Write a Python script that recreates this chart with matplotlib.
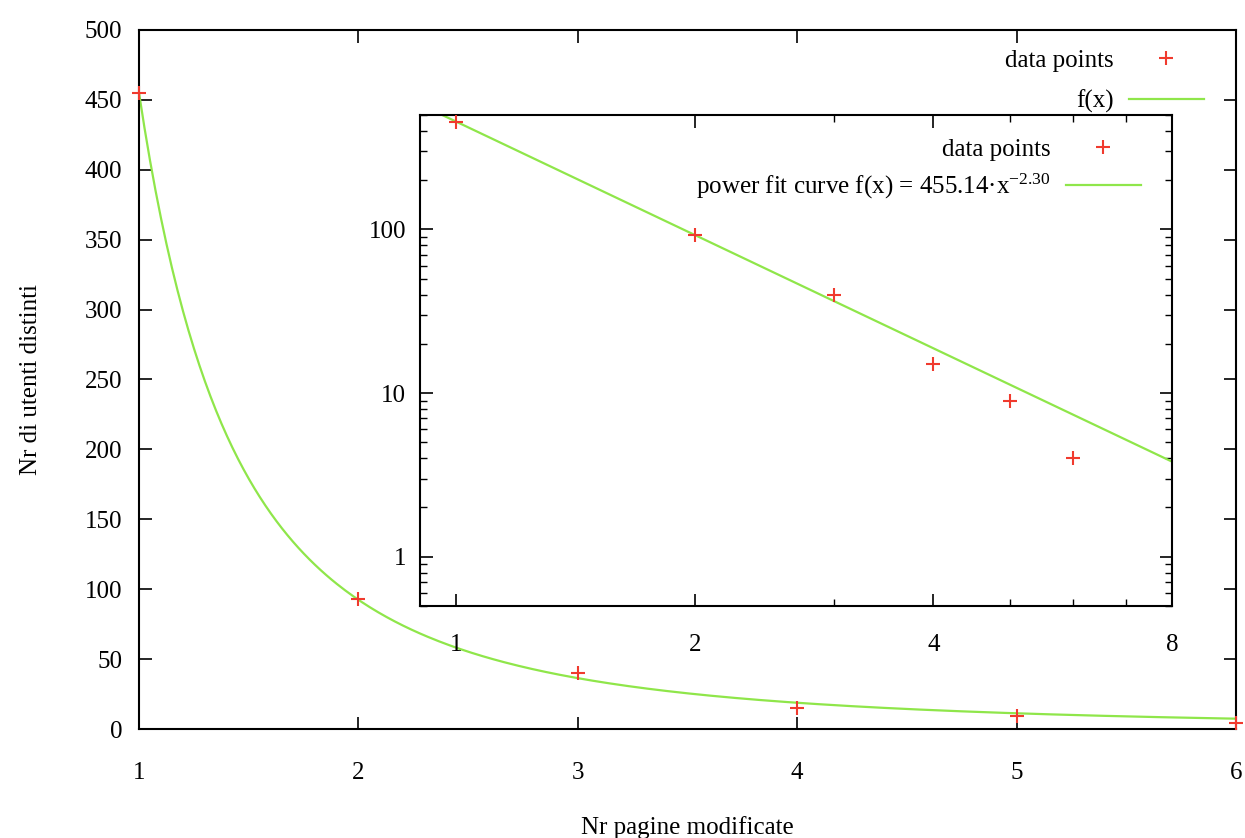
import numpy as np
import matplotlib
matplotlib.use('Agg')
import matplotlib.pyplot as plt
from matplotlib.ticker import FixedLocator, NullFormatter, FuncFormatter

plt.rcParams['font.family'] = ['Liberation Serif', 'DejaVu Serif']
plt.rcParams['mathtext.default'] = 'regular'

# data
pages = [1, 2, 3, 4, 5, 6]
users = [455, 93, 40, 15, 9, 4]

# power fit f(x) = A * x^B
FIT_A = 455.14
FIT_B = -2.30

RED = '#f03a2e'
GREEN = '#8fe64a'
FS = 18

fig = plt.figure(figsize=(12.45, 8.38), dpi=100)
W, H = 1245, 838

# ── main linear plot ──────────────────────────────────────────────
ax = fig.add_axes([139 / W, 1 - 729 / H, (1236 - 139) / W, (729 - 30) / H])
xs = np.linspace(1, 6, 400)
ax.plot(pages, users, ls='none', marker='+', ms=10, mew=1.5, color=RED,
        clip_on=False, zorder=3, label='data points')
ax.plot(xs, FIT_A * xs ** FIT_B, color=GREEN, lw=1.6, label='f(x)')
ax.set_xlim(1, 6)
ax.set_ylim(0, 500)
ax.set_xticks(range(1, 7))
ax.set_yticks(range(0, 501, 50))
ax.tick_params(direction='in', length=9, width=1.2, top=True, right=True,
               labelsize=FS)
ax.tick_params(axis='x', pad=24)
ax.tick_params(axis='y', pad=12)
for s in ax.spines.values():
    s.set_linewidth(1.5)
ax.set_xlabel('Nr pagine modificate', fontsize=FS, labelpad=23)
ax.set_ylabel('Nr di utenti distinti', fontsize=FS, labelpad=31)
ax.legend(loc='upper right', bbox_to_anchor=(0.982, 0.99), frameon=False,
          markerfirst=False, fontsize=FS, handlelength=3.0,
          handletextpad=0.6, labelspacing=0.7, borderpad=0)

# ── inset log-log plot ───────────────────────────────────────────
ins = fig.add_axes([420 / W, 1 - 606 / H, 752 / W, 491 / H])
xl = np.linspace(0.9, 8, 400)
ins.plot(pages, users, ls='none', marker='+', ms=10, mew=1.5, color=RED,
         zorder=3, label='data points')
ins.plot(xl, FIT_A * xl ** FIT_B, color=GREEN, lw=1.6,
         label='power fit curve f(x) = 455.14·x$^{-2.30}$')
ins.set_xscale('log', base=2)
ins.set_yscale('log')
ins.set_xlim(0.9, 8)
ins.set_ylim(0.5, 500)
ins.xaxis.set_major_locator(FixedLocator([1, 2, 4, 8]))
ins.xaxis.set_minor_locator(FixedLocator([3, 5, 6, 7]))
ins.xaxis.set_major_formatter(FuncFormatter(lambda v, p: f'{v:g}'))
ins.xaxis.set_minor_formatter(NullFormatter())
ins.yaxis.set_major_locator(FixedLocator([1, 10, 100]))
ins.yaxis.set_minor_locator(FixedLocator(
    [m * 10 ** e for e in (-1, 0, 1, 2) for m in range(2, 10)]))
ins.yaxis.set_major_formatter(FuncFormatter(lambda v, p: f'{v:g}'))
ins.yaxis.set_minor_formatter(NullFormatter())
ins.tick_params(which='both', direction='in', top=True, right=True,
                labelsize=FS)
ins.tick_params(which='major', length=9, width=1.2)
ins.tick_params(which='minor', length=5, width=1.0)
ins.tick_params(axis='x', which='major', pad=20)
ins.tick_params(axis='y', which='major', pad=10)
for s in ins.spines.values():
    s.set_linewidth(1.5)
ins.legend(loc='upper right', bbox_to_anchor=(0.975, 0.978), frameon=False,
           markerfirst=False, fontsize=FS, handlelength=3.0,
           handletextpad=0.6, labelspacing=0.45, borderpad=0)

fig.savefig('out.png', dpi=100)
